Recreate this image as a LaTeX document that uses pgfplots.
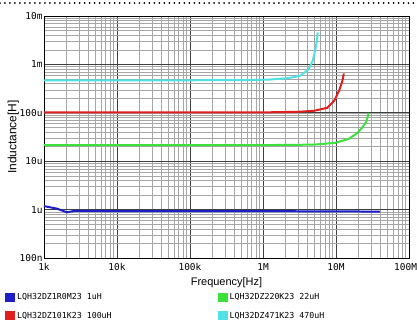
\documentclass[border=0pt]{standalone}
\usepackage{pgfplots}
\pgfplotsset{compat=1.18}
\usepackage{fontspec}
\setmainfont{Liberation Sans}
\newfontfamily\gothic{DejaVu Sans Mono}
\definecolor{cblue}{RGB}{30,30,200}
\definecolor{cred}{RGB}{225,30,30}
\definecolor{cgreen}{RGB}{60,225,60}
\definecolor{ccyan}{RGB}{80,225,230}
\begin{document}
\begin{tikzpicture}
\begin{axis}[
    scale only axis,
    width=365bp, height=242bp,
    xmode=log, ymode=log,
    xmin=1e3, xmax=1e8,
    ymin=1e-7, ymax=1e-2,
    xtick={1e3,1e4,1e5,1e6,1e7,1e8},
    xticklabels={1k,10k,100k,1M,10M,\makebox[16pt][r]{100M}},
    ytick={1e-7,1e-6,1e-5,1e-4,1e-3,1e-2},
    yticklabels={100n,1u,10u,100u,1m,10m},
    tick label style={font=\gothic\fontsize{9.5}{10}\selectfont},
    major tick length=0pt, minor tick length=0pt,
    xticklabel style={yshift=-2pt},
    yticklabel style={xshift=2pt},
    grid=both,
    major grid style={draw=black!75, line width=0.7pt},
    minor grid style={draw=black!35, line width=0.4pt},
    axis line style={black, line width=0.7pt},
    xlabel={Frequency[Hz]},
    ylabel={Inductance[H]},
    xlabel style={font=\fontsize{11}{12}\selectfont, yshift=0pt},
    ylabel style={font=\fontsize{12}{13}\selectfont, yshift=-6pt},
    clip mode=individual,
    legend columns=2,
    transpose legend,
    legend style={at={(rel axis cs:-0.107,-0.137)}, anchor=north west, draw=none,
        fill=none, inner sep=0pt, row sep=7pt,
        font=\gothic\fontsize{8.3}{9}\selectfont,
        cells={anchor=west}},
    legend cell align=left,
    /tikz/every even column/.append style={column sep=104bp},
    legend image code/.code={\fill[#1] (0bp,-3.5bp) rectangle (8bp,3.5bp);},
]
\addplot[cblue, line width=2pt] coordinates {
 (1e3,1.18e-6) (1.5e3,1.05e-6) (2.05e3,0.88e-6) (2.6e3,0.94e-6) (5e3,0.94e-6)
 (1e4,0.93e-6) (1e5,0.93e-6) (1e6,0.93e-6) (1e7,0.92e-6) (4e7,0.91e-6)
};
\addlegendentry{LQH32DZ1R0M23 1uH}
\addplot[cred, line width=2pt] coordinates {
 (1e3,1.02e-4) (1e5,1.02e-4) (1e6,1.02e-4) (3e6,1.05e-4) (5e6,1.1e-4)
 (7.6e6,1.27e-4) (9.5e6,1.8e-4) (11e6,2.85e-4) (12.2e6,4.5e-4) (12.8e6,6.5e-4)
};
\addlegendentry{LQH32DZ101K23 100uH}
\addplot[cgreen, line width=2pt] coordinates {
 (1e3,2.15e-5) (1e5,2.15e-5) (1e6,2.15e-5) (5e6,2.2e-5) (9.8e6,2.4e-5)
 (15e6,2.9e-5) (19.5e6,3.8e-5) (23e6,5e-5) (25.5e6,6.3e-5) (27e6,8e-5) (28e6,1.0e-4)
};
\addlegendentry{LQH32DZ220K23 22uH}
\addplot[ccyan, line width=2pt] coordinates {
 (1e3,4.7e-4) (1e5,4.7e-4) (6e5,4.75e-4) (1.2e6,4.85e-4) (2.2e6,5.2e-4)
 (3.2e6,5.8e-4) (4.2e6,7.8e-4) (4.8e6,1.2e-3) (5.2e6,2.0e-3) (5.5e6,3.3e-3) (5.6e6,4.6e-3)
};
\addlegendentry{LQH32DZ471K23 470uH}
\draw[black, line width=2pt, line cap=round, dash pattern=on 0pt off 5pt]
  (rel axis cs:-0.1205,1.0537) -- (rel axis cs:1.0219,1.0537);
\coordinate (bbsw) at (rel axis cs:-0.1205,-0.2686);
\coordinate (bbne) at (rel axis cs:1.0219,1.0661);
\end{axis}
\pgfresetboundingbox
\useasboundingbox (bbsw) rectangle (bbne);
\end{tikzpicture}
\end{document}
